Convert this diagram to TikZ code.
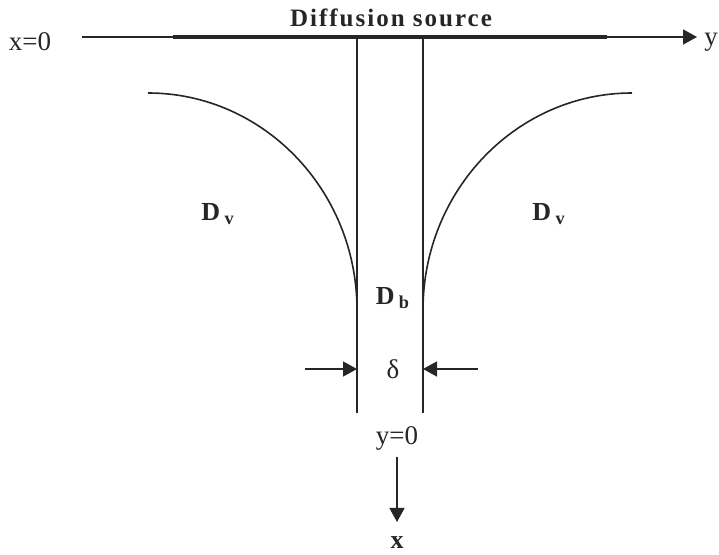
\documentclass[tikz,border=0pt]{standalone}
\usepackage{fontspec}
\setmainfont{Liberation Serif}
\usepackage{xcolor}
\usetikzlibrary{arrows.meta,positioning}
\definecolor{ink}{HTML}{262626}

\begin{document}
\begin{tikzpicture}[x=0.5pt,y=-0.5pt,
 txt/.style={text=ink,inner sep=0pt,font=\fontsize{13.5}{15}\selectfont},
 boldtxt/.style={txt,font=\fontsize{13}{15}\selectfont\bfseries},
 thin/.style={draw=ink,line width=0.8pt},
 source/.style={draw=ink,line width=2pt},
 arrow/.style={thin,-{Triangle[length=7pt,width=7.5pt]}}
]
\useasboundingbox (0,0) rectangle (719,555);
% labels
\node[boldtxt,font=\fontsize{12.5}{15}\selectfont\bfseries\addfontfeatures{LetterSpace=8}] (source) at (391,18) {Diffusion source};
\node[txt] (xzero) at (30,42) {x=0};
\node[txt,anchor=west] (yname) at (704,42) {y};
\node[boldtxt] (dvleft) at (218,214) {D\,\textsubscript{v}};
\node[boldtxt] (dvright) at (549,214) {D\,\textsubscript{v}};
\node[boldtxt] (db) at (393,298) {D\,\textsubscript{b}};
\node[txt] (delta) at (393,369) {δ};
\node[txt] (yzero) at (397,438) {y=0};
\node[boldtxt] (xname) at (397,543) {x};
% axis and source
\coordinate (axstart) at (82,37);
\coordinate (axend) at (697,37);
\coordinate (srcstart) at (173,37);
\coordinate (srcend) at (607,37);
\draw[arrow] (axstart) -- (axend);
\draw[source] (srcstart) -- (srcend);
% grain boundary
\coordinate (gbltop) at (357,37);
\coordinate (gblbot) at (357,413);
\coordinate (gbrtop) at (423,37);
\coordinate (gbrbot) at (423,413);
\draw[thin] (gbltop) -- (gblbot);
\draw[thin] (gbrtop) -- (gbrbot);
% iso-concentration contours
\draw[thin] (148,93) .. controls (263,93) and (357,190) .. (357,310);
\draw[thin] (632,93) .. controls (517,93) and (423,190) .. (423,310);
% width arrows
\coordinate (wleft) at (305,369);
\coordinate (wright) at (478,369);
\draw[arrow] (wleft) -- (gblbot |- wleft);
\draw[arrow] (wright) -- (gbrbot |- wright);
% depth arrow
\coordinate (dstart) at (397,457);
\coordinate (dend) at (397,522);
\draw[arrow] (dstart) -- (dend);
\end{tikzpicture}
\end{document}
